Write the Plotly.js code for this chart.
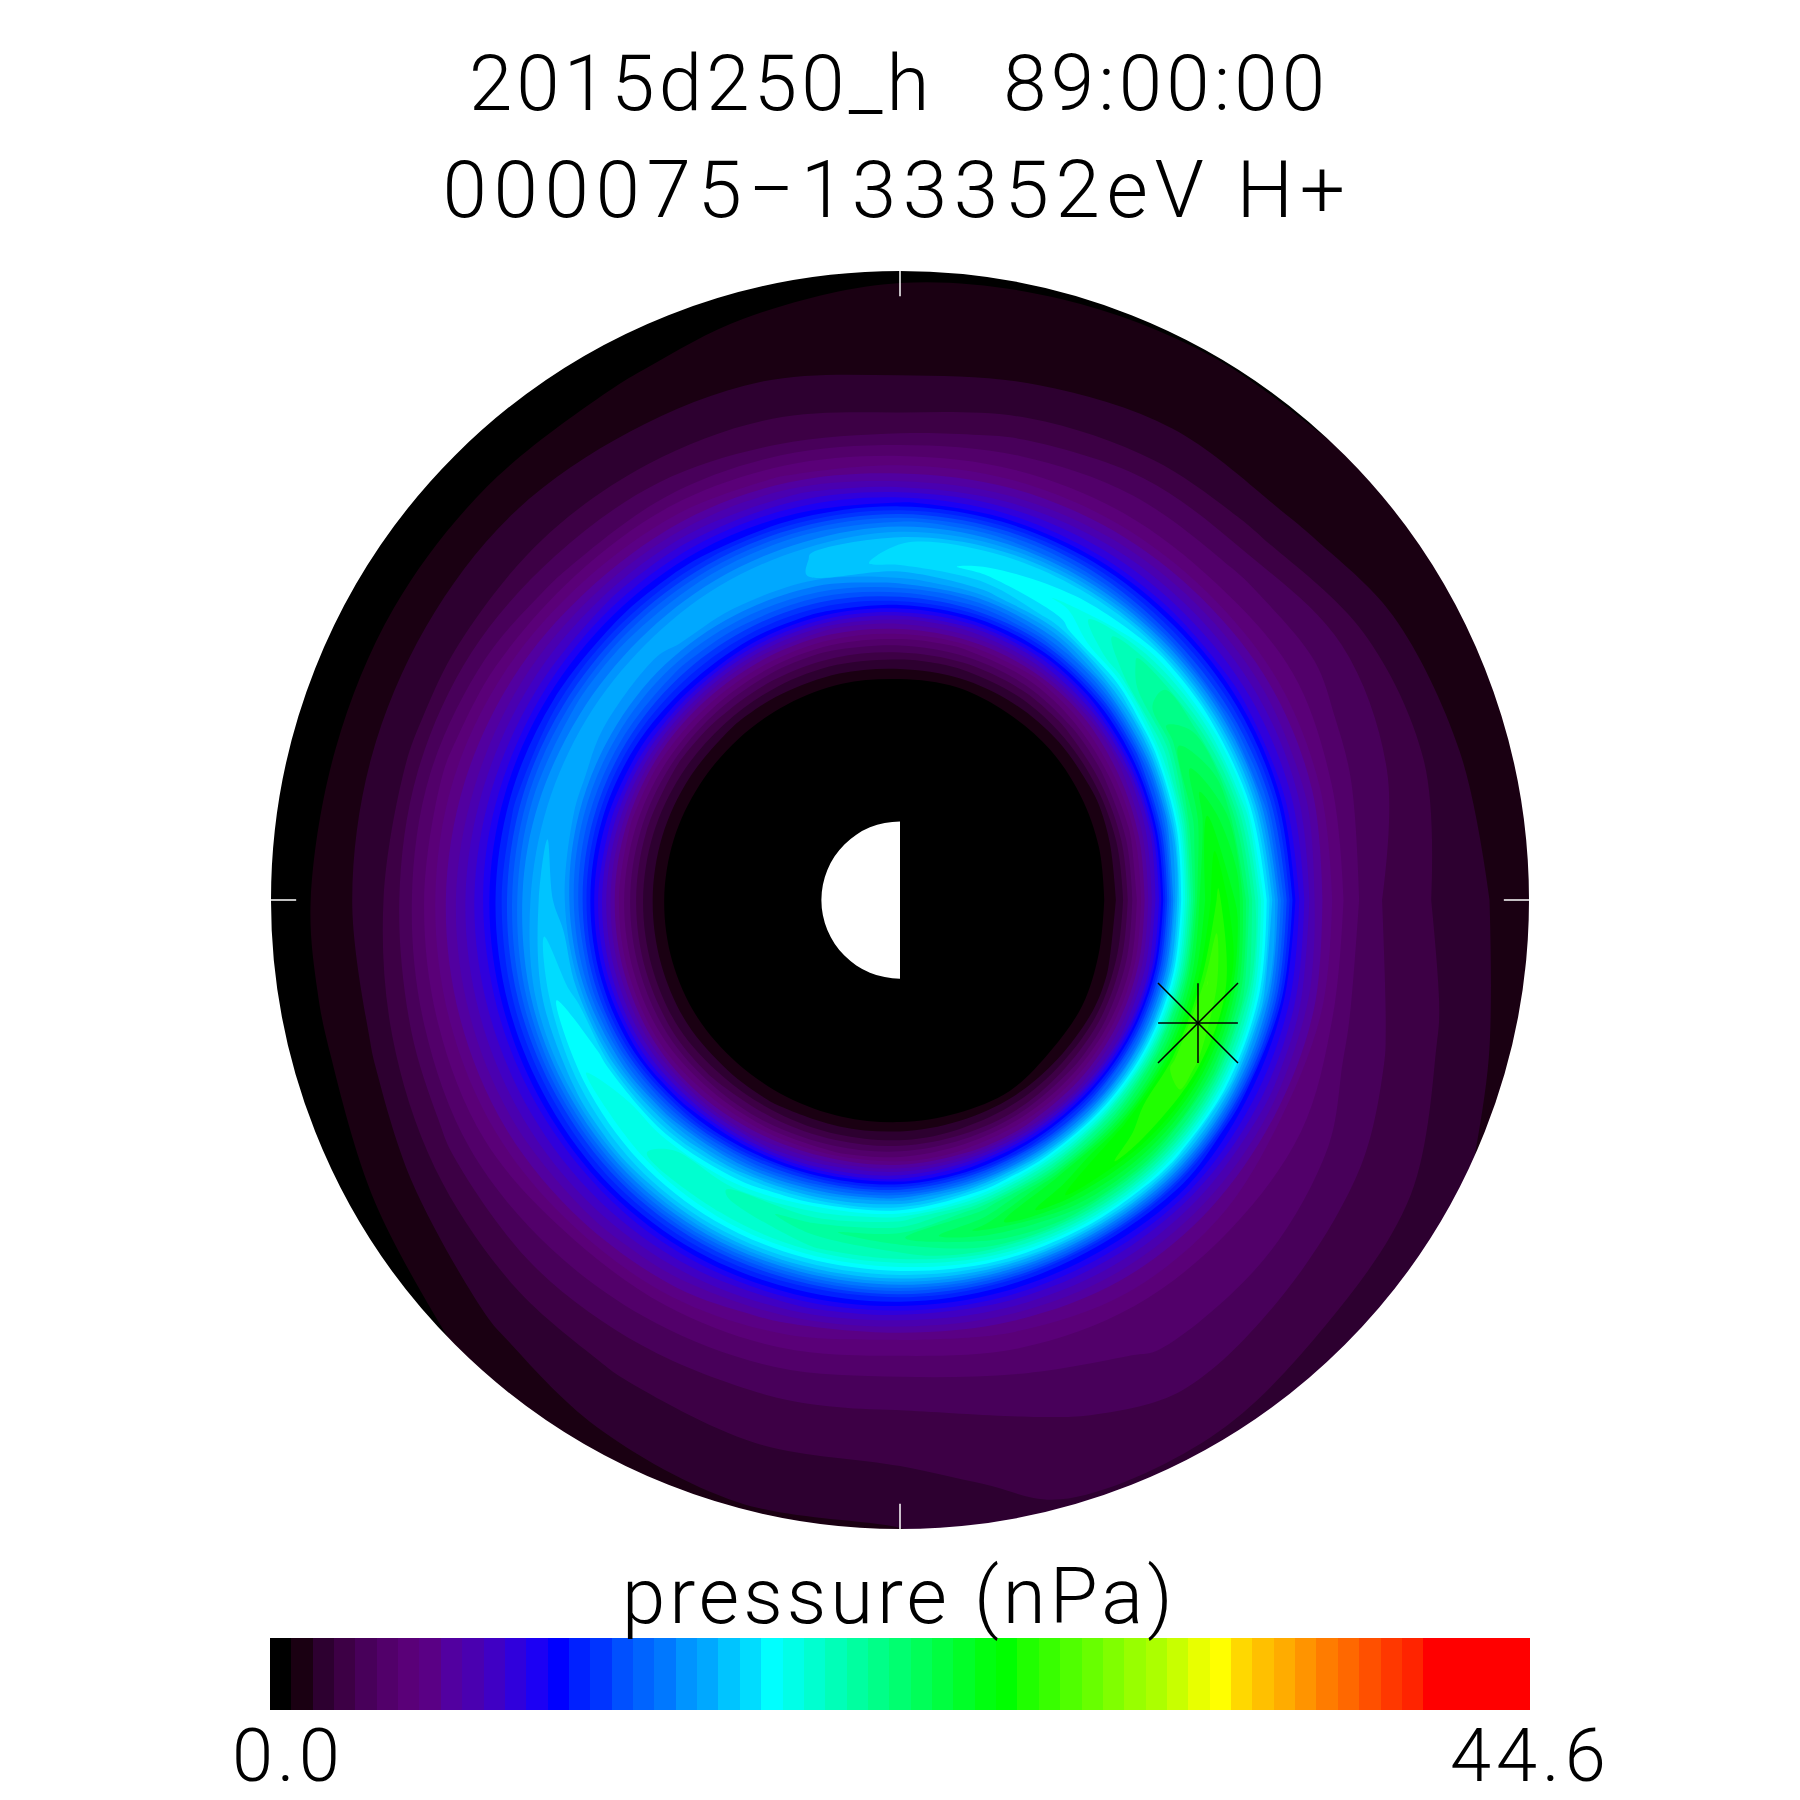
<!DOCTYPE html>
<html><head><meta charset="utf-8">
<script src="https://cdn.plot.ly/plotly-3.0.1.min.js"></script>
<style>html,body{margin:0;padding:0;background:#fff}
g.annotation[data-index="0"] text{letter-spacing:4.2px}
g.annotation[data-index="1"] text{letter-spacing:6.6px}
g.annotation[data-index="2"] text{letter-spacing:4px}
g.annotation[data-index="3"] text{letter-spacing:4px}
g.annotation[data-index="4"] text{letter-spacing:5px}
</style></head>
<body><div id="plot" style="width:1800px;height:1800px"></div>
<script>
const titleLine1 = "2015d250_h   89:00:00";
const titleLine2 = "000075\u2212133352eV H+";
const barTitle = "pressure (nPa)";
const barMinLabel = "0.0";
const barMaxLabel = "44.6";
const pressureMax = 44.6;
const outerRadius = 8;
const satellite = {x:[3.79], y:[-1.565]};

// radial distance of each ring (Earth radii)
const rings = [2,2.5,2.8,3.05,3.3,3.55,3.8,4.05,4.3,4.55,4.8,5.05,5.3,5.6,6,6.5,7,7.5,8.1];
// azimuth of each row (degrees, counter-clockwise from +x)
const angles = [0,15,30,45,60,75,90,105,120,135,150,165,180,195,210,225,240,255,270,285,300,315,330,345,360];

const p000 = [0,.3,1.8,5.03,9.16,16.6,24.1,26.7,24.6,19.8,14.5,9.4,6.5,4.7,3.2,2.55,2.0,1.51,1.0];
const p015 = [0,.2,1.7,4.65,8.4,14.9,21.9,25.0,23.4,18.7,13.4,9.2,7.0,4.8,3.6,2.9,2.1,1.3,1.0];
const p030 = [0,.15,1.4,4.07,7.25,12.6,18.6,22.5,21.9,17.7,12.6,9.1,7.1,5.0,3.95,3.0,1.8,1.2,.95];
const p045 = [0,.1,1.1,3.25,6.1,10.5,15.6,19.85,20.6,17.2,12.3,9.0,7.0,4.8,3.7,2.3,1.4,1.05,.72];
const p060 = [0,.1,.92,2.65,5.1,8.85,13.35,17.0,18.3,16.9,12.8,9.2,7.0,4.8,3.6,2.15,1.4,1.05,.68];
const p075 = [0,.1,.756,2.36,4.63,7.85,12.05,15.6,17.6,16.9,13.4,9.55,7.0,4.8,3.2,1.85,1.25,1.0,.65];
const p090 = [0,.05,.7,2.18,4.32,7.25,11.35,14.7,17.0,16.6,13.8,9.9,7.0,4.8,2.7,1.65,1.25,.98,.6];
const p105 = [0,.05,.5,1.9,3.9,6.7,10.7,13.6,15.95,15.85,13.6,10.2,7.8,5.2,3.02,1.9,1.3,.87,.45];
const p120 = [0,.03,.4,1.65,3.6,6.4,10.35,13.1,15.4,15.6,13.5,10.5,8.2,5.7,3.4,2.0,1.35,.7,.4];
const p135 = [0,.03,.3,1.43,3.3,6.1,10.2,12.7,15.0,15.4,13.5,10.65,8.4,6.0,3.6,2.15,1.45,.65,.35];
const p150 = [0,0,.2,1.2,2.9,5.6,9.5,12.5,15.0,15.5,13.7,10.95,8.6,6.5,4.2,2.22,1.45,.65,.35];
const p165 = [0,0,.15,1.0,2.6,5.2,8.9,12.3,15.2,15.7,14.1,11.3,8.9,6.8,4.7,2.3,1.45,.65,.35];
const p180 = [0,0,.12,.92,2.47,4.95,8.46,12.3,15.6,16.2,14.4,11.5,9.1,7.1,4.8,2.4,1.45,.75,.35];
const p195 = [0,0,.12,.92,2.47,4.95,8.46,12.5,16.4,17.3,15.1,11.7,9.1,7.2,4.9,2.75,1.45,.76,.35];
const p210 = [0,0,.15,1.0,2.6,5.2,8.9,13.4,17.7,18.3,15.65,11.8,9.1,7.2,4.9,3.15,1.8,.95,.4];
const p225 = [0,0,.2,1.28,3.2,6.13,10.45,15.05,18.7,18.9,16.2,12.1,9.1,7.0,4.5,3.2,2.15,1.45,.7];
const p240 = [0,0,.3,1.6,3.85,7.2,12.15,16.65,19.8,19.3,16.3,12.0,8.9,6.6,4.3,3.1,2.3,1.75,1.15];
const p255 = [0,.02,.45,1.92,4.43,8.4,13.65,18.3,20.9,19.6,16.1,11.55,8.5,5.8,4.1,3.05,2.4,1.95,1.35];
const p270 = [0,.03,.6,2.21,4.88,9.15,14.65,19.3,21.8,19.9,16.15,11.4,8.0,5.2,3.9,3.0,2.45,2.0,1.4];
const p285 = [0,.05,.7,2.59,5.65,10.5,16.6,21.6,23.8,21.2,16.6,11.05,8.1,5.6,4.2,3.3,2.85,2.5,2.15];
const p300 = [0,.1,.756,3.02,6.34,11.9,18.7,24.2,25.8,22.4,16.95,10.8,8.2,6.0,4.4,3.9,3.3,2.6,2.1];
const p315 = [0,.1,1.05,3.59,7.0,13.2,20.55,26.0,26.85,23.1,17.5,11.15,8.1,5.8,4.3,3.8,3.0,2.4,1.9];
const p330 = [0,.15,1.2,4.06,7.74,14.55,22.2,27.4,27.35,22.9,16.9,10.2,7.8,5.2,4.3,3.4,2.7,2.27,1.6];
const p345 = [0,.2,1.7,4.6,8.6,15.85,23.55,28.0,26.4,21.5,15.6,9.8,7.2,4.9,3.5,2.9,2.35,1.75,1.2];
const pressure = [p000,p015,p030,p045,p060,p075,p090,p105,p120,p135,p150,p165,p180,p195,p210,p225,p240,p255,p270,p285,p300,p315,p330,p345,p000];

// the 59 colour steps of the bar, low to high
const bandColors = ["#000000","#1a0012","#2d0030","#3d0045","#48005a","#52006a","#5a0078","#5a0085","#5200a0","#4a00b0",
"#4000c4","#3000dc","#1c00f4","#0000ff","#0020ff","#0034ff","#0050ff","#0064ff","#0078ff","#0094ff",
"#00a8ff","#00c4ff","#00dcff","#00ffff","#00ffe8","#00ffd0","#00ffb8","#00ffa0","#00ff88","#00ff70",
"#00ff58","#00ff40","#00ff28","#00ff10","#00ff00","#20ff00","#38ff00","#50ff00","#68ff00","#80ff00",
"#98ff00","#acff00","#c8ff00","#e8ff00","#ffff00","#ffd800","#ffc000","#ffac00","#ff9400","#ff7c00",
"#ff6800","#ff5000","#ff3800","#ff2400","#ff0000","#ff0000","#ff0000","#ff0000","#ff0000"];

const nBands = bandColors.length;
const step = pressureMax / nBands;
// one stop per band: contour fills sample the scale once per band
const scale = bandColors.map((c,i)=>[i/(nBands-1),c]);

const rad = Math.PI/180;
const cx = angles.map(t=>rings.map(r=>r*Math.cos(t*rad)));
const cy = angles.map(t=>rings.map(r=>r*Math.sin(t*rad)));
const hiddenAxis = {showgrid:false,showline:false,showticklabels:'none',startline:false,endline:false,
  minorgridcount:0,ticks:'',smoothing:1,gridwidth:0};

const bandIdx = bandColors.map((c,i)=>i);

const FONT = "Roboto, 'Liberation Sans', sans-serif";
const txt = (text,x,y,size)=>({text,x,y,xref:'paper',yref:'paper',xanchor:'center',yanchor:'middle',showarrow:false,
  font:{family:FONT,size,color:'#000',weight:300}});
const pxX = p=>p/1800, pxY = p=>1-p/1800;

const span = 900/78.625;
const tick = .32;
const tickLine = (x0,y0,x1,y1)=>({type:'line',x0,y0,x1,y1,xref:'x',yref:'y',line:{color:'#fff',width:1.5},layer:'above'});

const data = [
 {type:'carpet',carpet:'c',a:rings,b:angles,x:cx,y:cy,aaxis:hiddenAxis,baxis:hiddenAxis,xaxis:'x',yaxis:'y'},
 {type:'contourcarpet',carpet:'c',a:rings,b:angles,z:pressure,colorscale:scale,
  autocontour:false,contours:{start:step,end:pressureMax-step/2,size:step,coloring:'fill',showlines:false},
  line:{width:0},showscale:false,xaxis:'x',yaxis:'y'},
 {type:'scatter',mode:'markers',x:satellite.x,y:satellite.y,xaxis:'x',yaxis:'y',showlegend:false,
  marker:{symbol:'cross-thin-open',size:57,color:'#000',line:{color:'#000',width:1.5}}},
 {type:'scatter',mode:'markers',x:satellite.x,y:satellite.y,xaxis:'x',yaxis:'y',showlegend:false,
  marker:{symbol:'x-thin-open',size:80,color:'#000',line:{color:'#000',width:1.5}}},
 {type:'heatmap',x:bandIdx,y:[0],z:[bandIdx],colorscale:scale,zmin:0,zmax:nBands-1,showscale:false,xaxis:'x2',yaxis:'y2',zsmooth:false}
];
const layout = {
 width:1800,height:1800,margin:{l:0,r:0,t:0,b:0},paper_bgcolor:'#fff',plot_bgcolor:'#fff',showlegend:false,
 xaxis:{domain:[0,1],range:[-span,span],visible:false,fixedrange:true},
 yaxis:{domain:[0,1],range:[-span,span],visible:false,fixedrange:true},
 xaxis2:{domain:[pxX(270),pxX(1530)],anchor:'y2',visible:false,range:[-.5,nBands-.5],fixedrange:true},
 yaxis2:{domain:[pxY(1710),pxY(1638)],anchor:'x2',visible:false,range:[-.5,.5],fixedrange:true},
 shapes:[
  {type:'circle',xref:'x',yref:'y',x0:-outerRadius,x1:outerRadius,y0:-outerRadius,y1:outerRadius,fillcolor:'#000',line:{width:0},layer:'below'},
  {type:'circle',xref:'x',yref:'y',x0:-outerRadius-.2545,x1:outerRadius+.2545,y0:-outerRadius-.2545,y1:outerRadius+.2545,fillcolor:'rgba(0,0,0,0)',line:{color:'#fff',width:40},layer:'above'},
  {type:'circle',xref:'x',yref:'y',x0:-1,x1:1,y0:-1,y1:1,fillcolor:'#fff',line:{width:0},layer:'above'},
  {type:'rect',xref:'x',yref:'y',x0:0,x1:1.05,y0:-1.05,y1:1.05,fillcolor:'#000',line:{width:0},layer:'above'},
  tickLine(0,outerRadius,0,outerRadius-tick),
  tickLine(0,-outerRadius,0,-outerRadius+tick),
  tickLine(outerRadius,0,outerRadius-tick,0),
  tickLine(-outerRadius,0,-outerRadius+tick,0)
 ],
 annotations:[
  txt(titleLine1,pxX(899),pxY(84),78),
  txt(titleLine2,pxX(897),pxY(190),80),
  txt(barTitle,pxX(899),pxY(1596),78),
  txt(barMinLabel,pxX(288),pxY(1755),74),
  txt(barMaxLabel,pxX(1530),pxY(1755),74)
 ]
};
Plotly.newPlot('plot',data,layout,{displayModeBar:false,staticPlot:true});
</script></body></html>
